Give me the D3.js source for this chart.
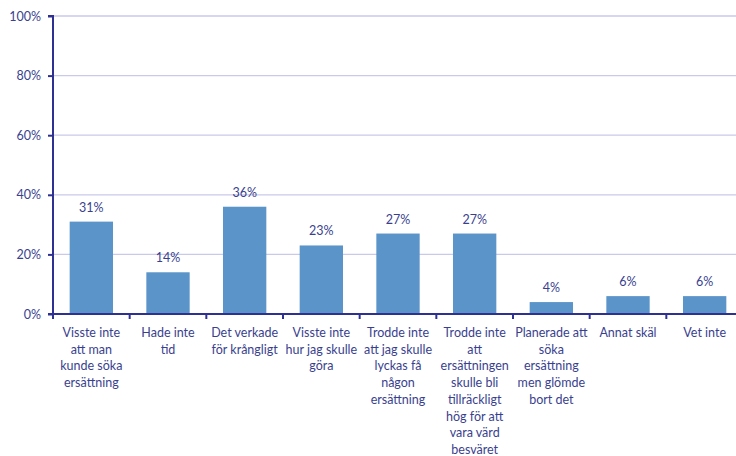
<!DOCTYPE html>
<html><head><meta charset="utf-8">
<script src="https://cdn.jsdelivr.net/npm/d3@7"></script>
<style>body{margin:0;background:#fff}svg{display:block}text{font-family:Lato,"Open Sans",sans-serif}</style>
</head><body><svg id="c" width="736" height="456"></svg>
<script>
const categories = [
  ["Visste inte","att man","kunde söka","ersättning"],
  ["Hade inte","tid"],
  ["Det verkade","för krångligt"],
  ["Visste inte","hur jag skulle","göra"],
  ["Trodde inte","att jag skulle","lyckas få","någon","ersättning"],
  ["Trodde inte","att","ersättningen","skulle bli","tillräckligt","hög för att","vara värd","besväret"],
  ["Planerade att","söka","ersättning","men glömde","bort det"],
  ["Annat skäl"],
  ["Vet inte"]
];
const values = [31, 14, 36, 23, 27, 27, 4, 6, 6];
const yTicks = [0, 20, 40, 60, 80, 100];

(function () {
const svg = d3.select("#c");
const mL = 53, mR = 743, mT = 16, mB = 314;
const x = d3.scaleBand().domain(d3.range(values.length)).range([mL, mR]).paddingInner(0.435).paddingOuter(0.2175);
const xb = d3.scaleBand().domain(d3.range(values.length)).range([mL, mR]);
const y = d3.scaleLinear().domain([0, 100]).range([mB, mT]);
const axisCol = "#2e3192", textCol = "#3a3f8f";

svg.append("g").selectAll("line").data(yTicks.filter(d => d > 0)).join("line")
  .attr("x1", mL).attr("x2", 736).attr("y1", d => y(d)).attr("y2", d => y(d))
  .attr("stroke", "#c9c9ec").attr("stroke-width", 1.3);

svg.append("g").selectAll("rect").data(values).join("rect")
  .attr("x", (d, i) => x(i)).attr("width", x.bandwidth())
  .attr("y", d => y(d)).attr("height", d => y(0) - y(d))
  .attr("fill", "#5a94c8");

svg.append("g").selectAll("text").data(values).join("text")
  .attr("x", (d, i) => x(i) + x.bandwidth() / 2).attr("y", d => y(d) - 10)
  .attr("text-anchor", "middle").attr("font-size", 12.5).attr("fill", textCol)
  .text(d => d + "%");

const ya = svg.append("g").attr("transform", `translate(${mL},0)`)
  .call(d3.axisLeft(y).tickValues(yTicks).tickFormat(d => d + "%").tickSize(5).tickPadding(7));
ya.select(".domain").attr("stroke", axisCol).attr("stroke-width", 2).attr("d", `M-5,${mT}H0V${mB}`);
ya.selectAll(".tick line").attr("stroke", axisCol).attr("stroke-width", 2);
ya.selectAll(".tick text").attr("fill", textCol).attr("font-size", 12.5).attr("font-family", "Lato, sans-serif");

const xa = svg.append("g").attr("transform", `translate(0,${mB})`);
xa.append("line").attr("x1", mL - 5).attr("x2", 736).attr("y1", 0).attr("y2", 0).attr("stroke", axisCol).attr("stroke-width", 2);
xa.selectAll("line.t").data(d3.range(values.length + 1)).join("line").attr("class", "t")
  .attr("x1", i => mL + i * xb.step()).attr("x2", i => mL + i * xb.step())
  .attr("y1", 0).attr("y2", 5).attr("stroke", axisCol).attr("stroke-width", 2);

const lab = svg.append("g").selectAll("text").data(categories).join("text")
  .attr("text-anchor", "middle").attr("font-size", 12.5).attr("fill", textCol)
  .attr("transform", (d, i) => `translate(${xb(i) + xb.bandwidth() / 2},${mB + 23})`);
lab.selectAll("tspan").data(d => d).join("tspan")
  .attr("x", 0).attr("y", (d, j) => j * 16.7).text(d => d);
})();
</script></body></html>
